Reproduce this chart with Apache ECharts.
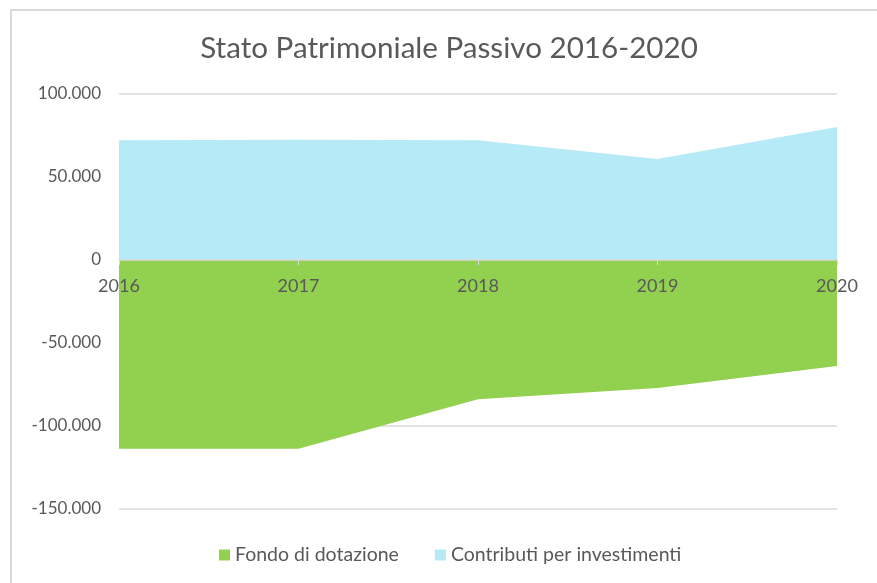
<!DOCTYPE html>
<html>
<head>
<meta charset="utf-8">
<script src="https://cdn.jsdelivr.net/npm/echarts@6/dist/echarts.min.js"></script>
<style>
  html, body { margin: 0; padding: 0; background: #fff; }
  #frame { position: absolute; left: 10px; top: 9px; width: 900px; height: 600px;
           border-left: 2px solid #d9d9d9; border-top: 2px solid #d9d9d9; }
  #chart { position: absolute; left: 0; top: 0; width: 877px; height: 583px; }
</style>
</head>
<body>
<div id="frame"></div>
<div id="chart"></div>
<script>
var years = ['2016', '2017', '2018', '2019', '2020'];
var fondoDotazione = [-113700, -113700, -83900, -77100, -63900];
var contributiInvestimenti = [72100, 72500, 72200, 60800, 80100];
var yTicks = { min: -150000, max: 100000, step: 50000 };

function fmt(v) {
  var s = Math.abs(v).toString().replace(/\B(?=(\d{3})+(?!\d))/g, '.');
  return (v < 0 ? '-' : '') + s;
}

var chart = echarts.init(document.getElementById('chart'));
chart.setOption({
  animation: false,
  textStyle: { fontFamily: 'Lato' },
  title: {
    text: 'Stato Patrimoniale Passivo 2016-2020',
    left: 444,
    textAlign: 'center',
    top: 28,
    textStyle: { fontFamily: 'Lato', fontWeight: 'normal', fontSize: 29.6, color: '#595959' }
  },
  grid: { left: 119, right: 40, top: 94, bottom: 74 },
  legend: {
    bottom: 13,
    left: 214,
    itemWidth: 11,
    itemHeight: 11,
    itemGap: 36,
    icon: 'rect',
    textStyle: { fontSize: 19.5, color: '#595959', fontFamily: 'Lato' },
    data: ['Fondo di dotazione', 'Contributi per investimenti']
  },
  xAxis: {
    type: 'category',
    data: years,
    boundaryGap: false,
    z: 5,
    offset: -249,
    axisLine: { onZero: false, lineStyle: { color: '#d9d9d9', width: 1.5 } },
    axisTick: { show: true, length: 5, lineStyle: { color: '#d9d9d9' } },
    axisLabel: { color: '#595959', fontSize: 18, margin: 17 }
  },
  yAxis: {
    type: 'value',
    min: yTicks.min,
    max: yTicks.max,
    interval: yTicks.step,
    axisLine: { show: false },
    axisTick: { show: false },
    splitLine: { lineStyle: { color: '#d9d9d9', width: 1.5 } },
    axisLabel: { color: '#595959', fontSize: 17, margin: 18, formatter: fmt }
  },
  series: [
    {
      name: 'Fondo di dotazione',
      type: 'line',
      data: fondoDotazione,
      symbol: 'none',
      lineStyle: { width: 0 },
      itemStyle: { color: '#92d050' },
      areaStyle: { color: '#92d050', opacity: 1 }
    },
    {
      name: 'Contributi per investimenti',
      type: 'line',
      data: contributiInvestimenti,
      symbol: 'none',
      lineStyle: { width: 0 },
      itemStyle: { color: '#b5eaf6' },
      areaStyle: { color: '#b5eaf6', opacity: 1 }
    }
  ]
});
window.addEventListener('resize', function () { chart.resize(); });
</script>
</body>
</html>
